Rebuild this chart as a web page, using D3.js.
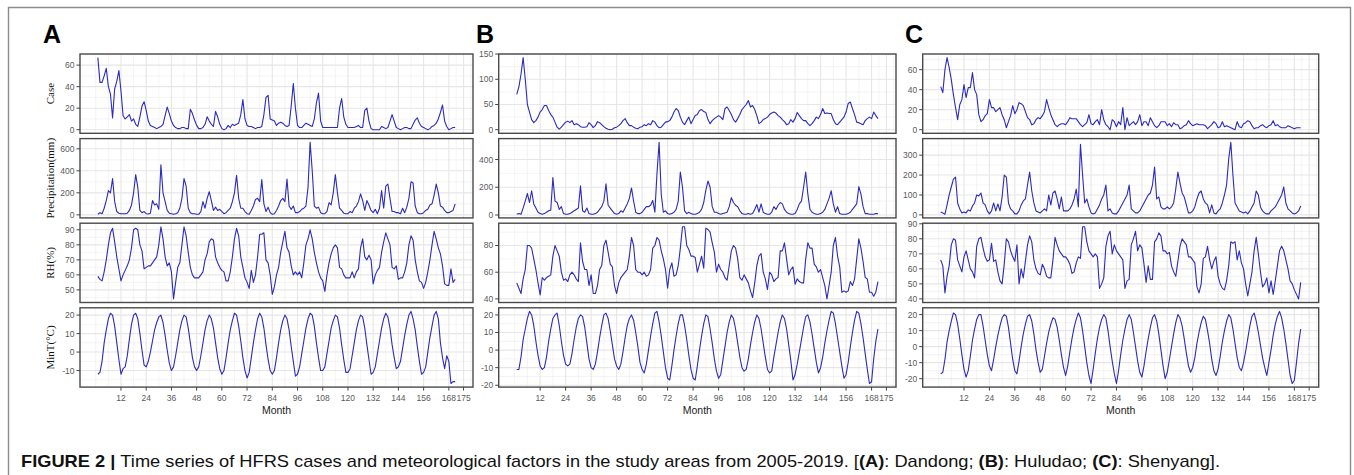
<!DOCTYPE html>
<html><head><meta charset="utf-8">
<script src="https://cdn.jsdelivr.net/npm/d3@7"></script>
<style>body{margin:0;background:#fff;}svg{display:block;}</style>
</head><body><svg id="c" width="1354" height="475"></svg>
<script>
// ---------- DATA ----------
const xBreaks = [12,24,36,48,60,72,84,96,108,120,132,144,156,168,175];
const varTitles = ["Case","Precipitation(mm)","RH(%)","MinT(°C)"];
const siteLetters = ["A","B","C"];

// Dandong (A)
const caseA = [67,44,44,50,57,40,33,11,38,45,55,36, 13,10,12,14,8,10,5,3,12,22,26,18, 8,4,3,2,1,2,3,5,13,21,15,8, 4,2,1,1,2,2,1,1,19,15,9,4, 1,1,2,5,12,8,5,3,17,12,5,1, 0,1,4,2,5,4,5,6,14,28,10,4, 3,3,2,1,2,2,3,14,30,32,10,9, 8,4,6,7,6,4,3,4,22,43,20,4, 2,2,4,6,5,4,3,10,25,34,8,2, 2,2,2,2,2,2,2,20,29,12,5,2, 2,2,2,3,4,2,2,18,20,8,1,0, 0,0,0,3,2,1,2,8,14,8,2,1, 0,1,2,2,1,1,5,9,11,6,3,2, 1,0,1,3,4,6,10,16,23,8,3,0, 1,2,2];
const precA = [5,20,10,60,130,220,200,330,120,30,15,10, 10,10,15,40,90,200,365,250,40,20,30,10, 8,15,130,90,100,50,455,200,120,40,15,10, 5,10,20,60,150,330,260,60,20,10,10,5, 5,30,120,60,150,210,130,40,70,40,50,30, 10,20,40,60,120,200,360,150,60,60,30,10, 5,40,80,140,150,120,320,100,30,70,20,5, 10,40,80,130,150,120,325,80,50,80,20,20, 30,50,60,80,250,660,400,80,60,70,20,10, 10,30,110,90,200,365,200,60,40,15,10,10, 30,20,60,80,120,190,130,40,130,90,40,20, 50,10,60,220,60,260,280,150,30,30,20,20, 10,60,20,70,150,300,290,80,20,10,10,20, 40,50,90,100,180,280,200,80,70,40,20,20, 30,40,100];
const rhA = [59,57,56,62,70,80,88,91,82,72,64,56, 60,63,66,70,78,90,91,90,80,76,64,65, 66,66,68,70,72,80,92,84,72,66,68,62, 44,55,65,68,80,92,86,75,65,60,58,58, 58,60,62,70,74,82,84,83,72,68,65,63, 62,56,56,62,72,84,91,86,72,65,58,55, 51,63,55,60,72,87,87,88,70,68,60,47, 52,60,65,75,82,89,78,75,66,60,62,60, 62,58,68,80,84,90,84,75,68,62,58,56, 49,60,68,74,78,80,78,65,64,60,58,58, 58,62,58,62,64,78,84,72,70,73,70,54, 60,63,65,75,82,88,84,80,65,64,66,57, 58,58,62,68,80,86,83,70,62,56,55,51, 55,62,70,80,89,84,78,74,66,54,53,53, 64,55,57];
const minA = [-12,-11,-5,5,12,18,21,20,14,5,-4,-12, -9,-8,-2,7,15,20,21,18,10,1,-7,-8, -5,0,6,12,16,19,20,16,9,1,-6,-10, -8,-2,5,12,17,20,19,13,5,-3,-8,-10, -8,-2,5,12,17,20,18,13,5,-3,-9,-12, -10,-3,5,12,17,21,20,14,6,-3,-10,-14, -11,-3,5,12,18,21,19,13,4,-4,-10,-12, -10,-3,5,12,17,20,18,12,3,-5,-13,-12, -8,-1,6,13,18,21,20,14,5,-3,-10,-10, -8,-1,6,13,17,20,19,13,4,-4,-11,-11, -9,-2,5,12,17,20,19,13,4,-4,-12,-11, -8,-1,6,13,18,21,19,13,4,-3,-9,-8, -5,2,9,15,20,22,18,12,3,-5,-12,-11, -8,0,8,14,20,22,18,5,-3,-9,-2,-5, -17,-16,-16];

// Huludao (B)
const caseB = [70,85,110,143,100,50,35,20,14,18,25,35, 40,48,48,38,30,25,15,5,1,5,10,15, 17,14,18,10,12,10,6,5,5,6,14,10, 4,8,16,14,10,6,3,1,0,1,4,5, 8,12,18,22,14,8,8,5,3,2,5,6, 10,8,12,10,18,15,8,4,5,10,15,16, 18,25,35,42,38,25,15,10,18,25,12,20, 28,30,38,40,36,34,20,12,18,22,25,28, 25,20,42,45,38,30,20,15,22,30,40,45, 50,58,45,48,40,28,12,15,20,22,25, 30,33,35,33,28,25,20,16,10,12,20,15, 22,34,28,22,18,18,12,8,12,18,25,22, 30,42,32,33,32,32,20,12,10,15,20,25, 35,52,55,42,30,15,14,12,10,18,22,25, 22,35,28,22];
const precB = [5,10,5,50,100,155,90,175,80,50,20,10, 5,10,20,30,35,270,100,90,40,60,10,5, 5,10,20,30,40,50,210,30,20,50,10,5, 5,10,20,40,60,100,225,70,50,30,10,5, 10,30,20,50,80,120,195,100,20,10,10,20, 40,60,60,70,105,20,300,525,150,20,30,10, 5,10,20,40,100,310,200,30,10,20,10,5, 5,10,20,40,90,180,245,200,60,20,20,10, 5,10,15,20,60,125,90,70,60,30,10,5, 5,10,5,10,40,75,20,80,20,10,5, 5,20,60,40,70,90,80,40,20,10,5,5, 10,40,80,100,200,310,150,40,20,10,5,5, 10,20,40,80,120,175,80,20,60,10,5,5, 5,10,20,40,60,80,205,150,60,10,10,5, 5,5,10,10];
const rhB = [52,48,44,55,62,80,80,78,70,62,52,43, 56,54,56,57,58,72,80,76,72,60,54,55, 53,58,60,58,55,53,82,68,62,62,50,58, 44,44,50,62,65,80,84,75,66,64,50,44, 52,56,58,60,62,72,86,80,62,60,60,58, 60,57,58,62,78,80,86,84,76,70,62,48, 62,67,57,58,65,78,94,94,80,77,72,72, 71,60,66,72,63,93,92,90,82,75,60,66, 62,60,56,54,65,76,80,78,70,56,54,58, 55,52,46,41,52,65,72,74,60,55,47, 60,58,53,55,56,76,76,82,70,58,62,64, 51,55,53,52,52,70,82,78,78,66,64,60, 62,56,50,40,50,60,80,86,72,64,45,46, 45,46,53,50,55,70,85,78,68,56,55,45, 45,42,45,53];
const minB = [-11,-11,-4,6,12,18,22,20,14,5,-3,-9, -11,-10,-4,5,12,18,20,21,14,5,-3,-8, -9,-8,-2,6,13,18,20,19,13,4,-5,-10, -11,-8,-1,7,14,20,21,18,11,3,-5,-9, -11,-8,-1,7,14,18,20,17,10,2,-7,-11, -13,-8,0,8,15,21,22,16,8,-1,-10,-16, -17,-9,0,8,15,20,20,14,6,-3,-11,-16, -17,-9,0,8,15,20,19,12,4,-5,-12,-16, -14,-6,2,10,16,20,18,12,4,-4,-10,-12, -11,-5,3,10,16,20,18,12,4,-4,-11,-13, -12,-4,3,10,16,20,18,12,3,-6,-17,-14, -8,-1,6,13,19,20,16,9,1,-7,-13,-10, -4,4,11,17,22,21,15,7,-1,-9,-16,-14, -7,2,10,17,22,21,15,7,-2,-11,-19,-18, -5,5,12];

// Shenyang (C)
const caseC = [43,37,60,72,62,50,35,22,10,25,30,45, 32,42,42,57,40,35,15,8,10,14,16,30, 22,22,18,20,22,15,10,2,8,14,24,16, 20,27,26,24,18,12,10,5,6,10,12,11, 14,18,30,22,15,10,5,3,5,6,6,5, 8,12,11,11,11,8,5,3,5,7,15,6, 5,8,10,5,20,10,5,3,0,10,8,3, 8,5,22,0,12,4,6,8,5,8,15, 4,8,8,4,12,8,4,2,4,8,8,8, 4,6,3,7,5,5,1,2,4,5,9,6, 4,5,6,5,5,5,4,1,3,5,8,6, 2,3,8,3,4,3,2,1,0,8,3,2, 6,7,9,8,4,1,2,2,4,5,3,2, 4,5,9,4,5,3,2,2,2,4,3,2, 1,2,2,2];
const precC = [15,10,3,50,100,140,180,190,60,30,10,15, 10,25,20,45,60,100,95,110,60,50,20,5, 20,60,20,55,20,90,200,190,60,30,20,5, 5,20,50,70,80,150,215,120,60,20,15,10, 20,30,20,100,50,110,120,80,30,90,20,20, 20,30,50,80,130,40,355,200,60,80,40,10, 5,10,30,50,80,100,150,20,30,10,5,5, 20,40,60,80,100,150,30,20,10,10,20,40, 60,80,100,110,150,240,80,90,40,30,30, 40,30,40,60,130,215,160,110,90,50,10,10, 20,40,80,110,120,80,60,50,10,50,10,5, 20,30,60,100,150,280,365,200,60,40,20,15, 10,15,5,20,40,60,120,100,40,20,10,5, 5,20,30,40,60,80,100,140,60,30,20,10, 5,10,20,45];
const rhC = [66,62,44,55,62,76,80,79,66,62,58,68, 72,66,60,58,54,75,80,81,74,68,65,66, 77,65,66,58,52,50,63,80,78,72,68,65, 76,50,60,54,65,76,82,78,66,60,57,56, 63,60,55,54,54,66,81,76,72,70,68,68, 66,63,57,58,64,68,67,88,88,78,72,70, 68,70,68,47,50,54,75,82,85,70,76,72, 70,68,66,47,52,53,76,80,85,72,76, 74,63,51,62,53,53,78,80,84,82,72,72, 70,71,62,58,55,65,75,80,78,76,68,68, 66,64,48,44,50,67,68,75,66,60,65,68, 55,50,47,46,52,62,78,77,78,66,72,64, 60,50,42,50,58,72,81,70,58,48,50,54, 44,52,43,52,62,72,75,72,66,60,52,50, 46,43,40,51];
const minC = [-17,-16,-8,3,10,16,21,20,14,5,-5,-14, -19,-15,-6,4,11,17,20,20,13,4,-5,-12, -15,-8,0,7,13,18,20,19,12,2,-8,-15, -17,-9,0,8,14,19,20,16,8,-2,-10,-16, -14,-6,2,9,14,18,17,12,4,-5,-13,-18, -12,-3,5,12,17,21,18,10,0,-10,-18,-23, -14,-4,5,12,17,20,18,10,0,-9,-17,-23, -15,-5,4,11,17,20,17,9,0,-9,-16,-19, -12,-3,5,12,18,20,16,8,-2,-12,-20,-16, -8,0,8,15,20,18,13,5,-4,-12,-16,-13, -7,2,9,15,19,17,10,2,-8,-15,-18,-14, -6,3,10,16,20,18,11,2,-7,-13,-15,-10, -3,5,13,19,21,16,9,1,-7,-13,-18,-10, -2,7,14,19,22,18,11,2,-8,-18,-23,-21, -10,2,11];

// y tick labels per panel
const yTicksA = [[0,20,40,60],[0,200,400,600],[50,60,70,80,90],[-10,0,10,20]];
const yTicksB = [[0,50,100,150],[0,200,400],[40,60,80],[-20,-10,0,10,20]];
const yTicksC = [[0,20,40,60],[0,100,200,300],[40,50,60,70,80,90],[-20,-10,0,10,20]];

// ---------- LAYOUT ----------
const sites = [
  {letter:siteLetters[0], left:80,    right:473,    series:[caseA,precA,rhA,minA], ticks:yTicksA, titles:true, lx:43},
  {letter:siteLetters[1], left:498.7, right:896,    series:[caseB,precB,rhB,minB], ticks:yTicksB, titles:false, lx:476},
  {letter:siteLetters[2], left:922.7, right:1318.7, series:[caseC,precC,rhC,minC], ticks:yTicksC, titles:false, lx:905}
];
const panelTop = 54, panelH = 79.3, panelGap = 5.3;
const lineColor = "#2b2bbd";
const sans = "'Liberation Sans', Arial, sans-serif";

const svg = d3.select("#c");
svg.append("rect").attr("width",1354).attr("height",475).attr("fill","#fff");
svg.append("path").attr("d","M8.5,480V7.5H1350.5V480").attr("fill","none")
  .attr("stroke","#8c8c8c").attr("stroke-width",1.4);

function minorBreaks(b, dom){
  const s0 = b[1]-b[0], s1 = b[b.length-1]-b[b.length-2];
  const ext = [b[0]-s0, ...b, b[b.length-1]+s1];
  const out = [];
  for (let i=0;i<ext.length;i++){
    out.push(ext[i]);
    if (i<ext.length-1) out.push((ext[i]+ext[i+1])/2);
  }
  const lo = Math.min(dom[0],dom[1]), hi = Math.max(dom[0],dom[1]);
  return out.filter(v => v>=lo && v<=hi && !b.includes(v));
}

sites.forEach(site => {
  svg.append("text").attr("x",site.lx).attr("y",43).text(site.letter)
    .attr("font-family",sans).attr("font-weight","bold").attr("font-size",25).attr("fill","#000");

  site.series.forEach((vals, i) => {
    const n = vals.length;
    const months = d3.range(1, n+1);
    const y0 = panelTop + i*(panelH+panelGap), y1 = y0 + panelH;
    const x = d3.scaleLinear().domain([1-0.05*(n-1), n+0.05*(n-1)]).range([site.left, site.right]);
    const ext = d3.extent(vals), pad = 0.05*(ext[1]-ext[0]);
    const y = d3.scaleLinear().domain([ext[0]-pad, ext[1]+pad]).range([y1, y0]);
    const g = svg.append("g");
    g.append("rect").attr("x",site.left).attr("y",y0).attr("width",site.right-site.left).attr("height",panelH).attr("fill","#fff");

    const yMaj = site.ticks[i].filter(v => v>=y.domain()[0] && v<=y.domain()[1]);
    const xMaj = xBreaks.filter(v => v>=x.domain()[0] && v<=x.domain()[1]);
    // minor grid
    minorBreaks(site.ticks[i], y.domain()).forEach(v => {
      g.append("line").attr("x1",site.left).attr("x2",site.right).attr("y1",y(v)).attr("y2",y(v))
        .attr("stroke","#ececec").attr("stroke-width",0.6);
    });
    minorBreaks(xBreaks, x.domain()).forEach(v => {
      g.append("line").attr("x1",x(v)).attr("x2",x(v)).attr("y1",y0).attr("y2",y1)
        .attr("stroke","#ececec").attr("stroke-width",0.6);
    });
    // major grid
    yMaj.forEach(v => {
      g.append("line").attr("x1",site.left).attr("x2",site.right).attr("y1",y(v)).attr("y2",y(v))
        .attr("stroke","#e6e6e6").attr("stroke-width",1.1);
    });
    xMaj.forEach(v => {
      g.append("line").attr("x1",x(v)).attr("x2",x(v)).attr("y1",y0).attr("y2",y1)
        .attr("stroke","#e6e6e6").attr("stroke-width",1.1);
    });
    // series line
    g.append("path").datum(vals)
      .attr("d", d3.line().x((d,k)=>x(months[k])).y(d=>y(d)))
      .attr("fill","none").attr("stroke",lineColor).attr("stroke-width",1.1).attr("stroke-linejoin","round");
    // border
    g.append("rect").attr("x",site.left).attr("y",y0).attr("width",site.right-site.left).attr("height",panelH)
      .attr("fill","none").attr("stroke","#4a4a4a").attr("stroke-width",1.4);
    // y axis ticks + labels
    yMaj.forEach(v => {
      g.append("line").attr("x1",site.left-3.5).attr("x2",site.left).attr("y1",y(v)).attr("y2",y(v))
        .attr("stroke","#444").attr("stroke-width",1);
      g.append("text").attr("x",site.left-5.5).attr("y",y(v)).attr("dy","0.35em")
        .attr("text-anchor","end").attr("font-family",sans).attr("font-size",8.5).attr("fill","#5a5a5a").text(v);
    });
    if (site.titles){
      const cy = (y0+y1)/2;
      g.append("text").attr("transform",`translate(54,${cy}) rotate(-90)`).attr("text-anchor","middle")
        .attr("font-family","'Liberation Serif', 'Times New Roman', serif").attr("font-size",11).attr("fill","#111")
        .text(varTitles[i]);
    }
    if (i === site.series.length-1){
      xMaj.forEach(v => {
        g.append("line").attr("x1",x(v)).attr("x2",x(v)).attr("y1",y1).attr("y2",y1+3.5)
          .attr("stroke","#444").attr("stroke-width",1);
        g.append("text").attr("x",x(v)).attr("y",y1+13.5).attr("text-anchor","middle")
          .attr("font-family",sans).attr("font-size",8.5).attr("fill","#5a5a5a").text(v);
      });
      g.append("text").attr("x",(site.left+site.right)/2).attr("y",y1+27)
        .attr("text-anchor","middle").attr("font-family",sans).attr("font-size",10.5).attr("fill","#222").text("Month");
    }
  });
});

// caption
const cap = svg.append("text").attr("x",21).attr("y",467)
  .attr("font-family","'Liberation Sans Narrow', 'Arial Narrow', 'Liberation Sans', sans-serif")
  .attr("font-size",17).attr("fill","#111")
  .attr("textLength",1199).attr("lengthAdjust","spacingAndGlyphs");
const parts = [["FIGURE 2 | ",true],["Time series of HFRS cases and meteorological factors in the study areas from 2005-2019. [",false],
  ["(A)",true],[": Dandong; ",false],["(B)",true],[": Huludao; ",false],["(C)",true],[": Shenyang].",false]];
parts.forEach(p => cap.append("tspan").attr("font-weight",p[1]?"bold":"normal").text(p[0]));
</script>
</body></html>
